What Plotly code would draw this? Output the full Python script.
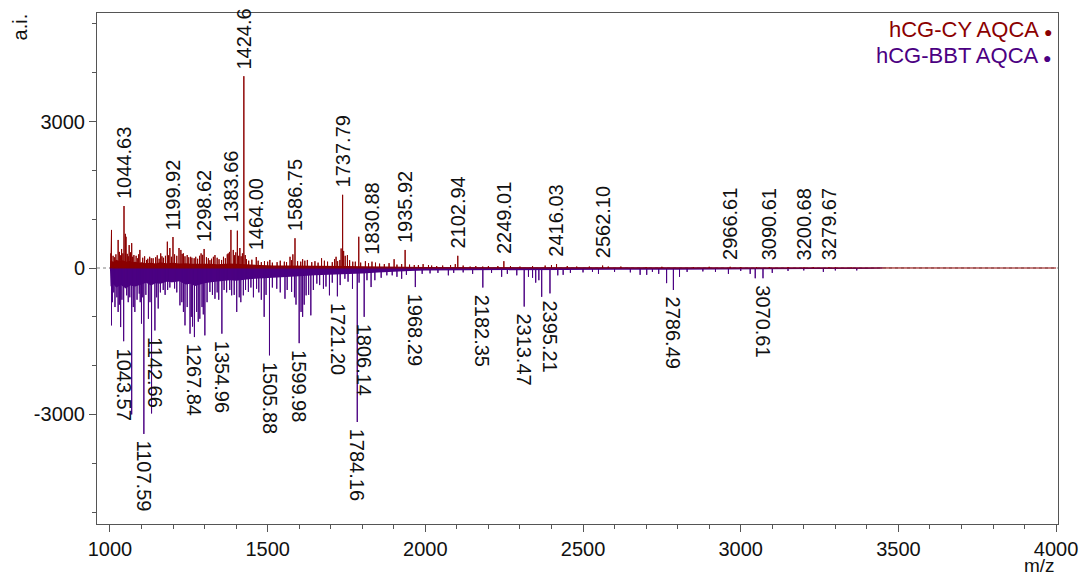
import plotly.graph_objects as go

# ---------------- data ----------------
# labelled peaks, upper spectrum (hCG-CY AQCA)
cy_label_mz = [1044.63, 1199.92, 1298.62, 1383.66, 1424.6, 1464.00, 1586.75, 1737.79,
               1830.88, 1935.92, 2102.94, 2249.01, 2416.03, 2562.10, 2966.61, 3090.61,
               3200.68, 3279.67]
cy_label_int = [1270, 635, 390, 780, 3930, 225, 610, 1500,
                130, 370, 250, 140, 80, 50, 25, 20, 12, 15]
cy_label_txt = ["1044.63", "1199.92", "1298.62", "1383.66", "1424.6", "1464.00", "1586.75",
                "1737.79", "1830.88", "1935.92", "2102.94", "2249.01", "2416.03", "2562.10",
                "2966.61", "3090.61", "3200.68", "3279.67"]

# other (unlabelled) peaks, upper spectrum
cy_mz = [1003, 1005, 1010, 1015, 1019, 1026, 1030, 1034, 1037, 1041, 1048, 1049, 1051, 1055,
         1058, 1061, 1065, 1069, 1072, 1076, 1083, 1088, 1091, 1095, 1104, 1110, 1116, 1120,
         1126, 1131, 1137, 1145, 1150, 1156, 1161, 1165, 1170, 1176, 1182, 1186, 1190, 1195,
         1205, 1212, 1219, 1225, 1229, 1233, 1238, 1245, 1250, 1256, 1260, 1267, 1272, 1278,
         1284, 1289, 1294, 1306, 1312, 1317, 1322, 1328, 1333, 1340, 1346, 1354, 1360, 1366,
         1372, 1375, 1379, 1391, 1395, 1399, 1404, 1408, 1412, 1416, 1420, 1429, 1433, 1440,
         1450, 1470, 1480, 1490, 1500, 1507, 1515, 1530, 1540, 1553, 1560, 1571, 1576, 1580,
         1595, 1605, 1611, 1618, 1626, 1640, 1650, 1660, 1671, 1680, 1690, 1705, 1712, 1717,
         1722, 1729, 1733, 1741, 1746, 1753, 1760, 1770, 1778, 1789, 1795, 1810, 1820, 1842,
         1855, 1870, 1885, 1901, 1910, 1925, 1950, 1965, 1978, 1993, 2010, 2020, 2036, 2055,
         2080, 2095, 2120, 2142, 2160, 2182, 2200, 2230, 2270, 2300, 2340, 2380, 2400, 2450,
         2480, 2520, 2580, 2620, 2700, 2750, 2850, 2900, 3000, 3050, 3150, 3230, 3300, 3350]
cy_int = [300, 780, 250, 220, 280, 575, 330, 260, 390, 300, 350, 700, 640, 290,
          240, 470, 320, 510, 230, 265, 250, 200, 280, 370, 210, 240, 165, 190,
          230, 200, 200, 220, 260, 190, 300, 240, 210, 250, 540, 260, 410, 230,
          280, 250, 410, 370, 290, 300, 240, 265, 220, 230, 210, 200, 230, 190,
          250, 300, 270, 220, 200, 160, 190, 230, 265, 210, 180, 165, 230, 200,
          280, 300, 330, 370, 260, 320, 765, 250, 410, 240, 300, 265, 180, 150,
          170, 150, 120, 140, 130, 165, 110, 120, 150, 130, 120, 230, 160, 280,
          140, 130, 180, 150, 165, 120, 140, 110, 200, 150, 130, 120, 180, 230,
          140, 165, 400, 350, 250, 265, 160, 130, 130, 640, 110, 140, 100, 110,
          90, 80, 100, 180, 70, 80, 70, 60, 60, 80, 60, 50, 40, 50,
          60, 80, 50, 30, 40, 30, 40, 40, 40, 30, 40, 50, 60, 40,
          30, 30, 30, 30, 20, 25, 20, 25, 20, 20, 20, 20, 15, 10]

# noise floor, upper spectrum
cy_floor_mz = [1000, 1002, 1012, 1020, 1032, 1040, 1052, 1060, 1072, 1080, 1092, 1100, 1115,
               1130, 1145, 1160, 1178, 1200, 1220, 1240, 1260, 1280, 1300, 1320, 1340, 1360,
               1380, 1400, 1420, 1440, 1460, 1480, 1520, 1560, 1600, 1650, 1700, 1750, 1800,
               1850, 1900, 2000, 2200, 2500, 2800, 3100, 3400, 3500, 4000]
cy_floor = [0, 150, 130, 170, 140, 160, 130, 150, 120, 130, 110, 120, 100,
            110, 95, 120, 100, 110, 95, 100, 85, 90, 80, 85, 75, 85,
            90, 85, 80, 70, 60, 55, 50, 50, 45, 40, 40, 40, 35,
            30, 25, 20, 15, 12, 10, 8, 5, 0, 0]

# labelled peaks, lower spectrum (hCG-BBT AQCA), drawn downward
bbt_label_mz = [1043.57, 1107.59, 1142.66, 1267.84, 1354.96, 1505.88, 1599.98, 1721.20,
                1784.16, 1806.14, 1968.29, 2182.35, 2313.47, 2395.21, 2786.49, 3070.61]
bbt_label_int = [-1500, -3400, -1280, -1415, -1345, -1790, -1540, -580,
                 -3155, -1000, -390, -400, -790, -520, -450, -210]
bbt_label_txt = ["1043.57", "1107.59", "1142.66", "1267.84", "1354.96", "1505.88", "1599.98",
                 "1721.20", "1784.16", "1806.14", "1968.29", "2182.35", "2313.47", "2395.21",
                 "2786.49", "3070.61"]

# other (unlabelled) peaks, lower spectrum
bbt_mz = [1005, 1008, 1012, 1016, 1022, 1026, 1030, 1034, 1038, 1053, 1058, 1063, 1069, 1074,
          1079, 1086, 1093, 1096, 1100, 1104, 1114, 1122, 1127, 1132, 1148, 1153, 1160, 1169,
          1175, 1183, 1190, 1196, 1205, 1212, 1222, 1228, 1233, 1238, 1245, 1254, 1258, 1262,
          1275, 1280, 1285, 1292, 1296, 1301, 1308, 1317, 1325, 1333, 1340, 1345, 1362, 1370,
          1380, 1386, 1394, 1402, 1410, 1415, 1423, 1430, 1439, 1447, 1455, 1465, 1472, 1480,
          1489, 1495, 1515, 1529, 1540, 1555, 1562, 1576, 1585, 1590, 1606, 1611, 1616, 1622,
          1630, 1637, 1645, 1656, 1665, 1677, 1685, 1696, 1705, 1730, 1745, 1755, 1769, 1790,
          1815, 1828, 1840, 1860, 1878, 1895, 1910, 1925, 1940, 1990, 2015, 2040, 2073, 2090,
          2120, 2150, 2210, 2242, 2260, 2290, 2327, 2340, 2350, 2360, 2369, 2420, 2437, 2460,
          2500, 2530, 2549, 2600, 2650, 2681, 2702, 2720, 2740, 2765, 2806, 2830, 2880, 2920,
          2961, 3000, 3030, 3046, 3100, 3150, 3200, 3262, 3300, 3368]
bbt_int = [-1175, -700, -500, -800, -600, -900, -750, -1210, -650, -560, -700, -600, -3000, -800,
           -900, -650, -525, -700, -1140, -600, -550, -1040, -700, -2980, -600, -830, -500, -450,
           -550, -450, -400, -290, -420, -500, -765, -700, -900, -1175, -800, -1345, -1000, -1200,
           -900, -1100, -1040, -800, -950, -1380, -700, -490, -550, -630, -500, -650, -450, -500,
           -450, -560, -550, -900, -600, -700, -560, -450, -490, -400, -600, -425, -500, -650,
           -1000, -550, -400, -425, -500, -630, -450, -490, -600, -750, -900, -1000, -750, -560,
           -550, -970, -450, -320, -350, -425, -380, -560, -300, -350, -220, -280, -425, -300,
           -250, -390, -250, -200, -150, -150, -180, -220, -140, -120, -110, -100, -150, -100,
           -90, -120, -100, -180, -120, -150, -180, -200, -300, -250, -590, -150, -140, -100,
           -90, -80, -120, -80, -90, -140, -140, -80, -120, -310, -180, -80, -70, -80,
           -120, -60, -120, -210, -100, -60, -50, -80, -50, -50]

# noise floor, lower spectrum
bbt_floor_mz = [1000, 1002, 1010, 1020, 1035, 1050, 1065, 1080, 1100, 1115, 1130, 1145, 1160,
                1180, 1200, 1220, 1240, 1255, 1270, 1285, 1300, 1320, 1340, 1360, 1380, 1400,
                1420, 1440, 1460, 1500, 1550, 1600, 1650, 1700, 1750, 1800, 1850, 1900, 1950,
                2000, 2100, 2200, 2400, 2600, 2800, 3000, 3200, 3400, 3450, 4000]
bbt_floor = [0, -380, -330, -400, -350, -420, -360, -380, -340, -300, -360, -310, -320,
             -280, -290, -270, -340, -320, -370, -340, -310, -290, -280, -260, -250, -260,
             -240, -230, -220, -210, -190, -170, -150, -140, -120, -110, -90, -70, -60,
             -50, -45, -40, -40, -35, -35, -30, -25, -15, 0, 0]

series_names = ["hCG-CY AQCA", "hCG-BBT AQCA"]
series_colors = ["#8B0000", "#4B0082"]

x_tickvals = [1000, 1500, 2000, 2500, 3000, 3500, 4000]
x_ticktext = ["1000", "1500", "2000", "2500", "3000", "3500", "4000"]
y_tickvals = [-3000, 0, 3000]
y_ticktext = ["-3000", "0", "3000"]


def sticks(mz, inten):
    pairs = sorted(zip(mz, inten))
    xs, ys = [], []
    for m, h in pairs:
        xs += [m, m, m]
        ys += [0, h, 0]
    return xs, ys


FONT = "Liberation Sans, Arial, sans-serif"

fig = go.Figure()

# noise floors
fig.add_trace(go.Scatter(x=bbt_floor_mz, y=bbt_floor, mode="lines", fill="tozeroy",
                         line=dict(width=0, color=series_colors[1]),
                         fillcolor=series_colors[1], showlegend=False, hoverinfo="skip"))
fig.add_trace(go.Scatter(x=cy_floor_mz, y=cy_floor, mode="lines", fill="tozeroy",
                         line=dict(width=0, color=series_colors[0]),
                         fillcolor=series_colors[0], showlegend=False, hoverinfo="skip"))

# stick spectra
bx, by = sticks(bbt_mz + bbt_label_mz + [1000, 3450], bbt_int + bbt_label_int + [0, 0])
fig.add_trace(go.Scatter(x=bx, y=by, mode="lines", name=series_names[1],
                         line=dict(width=1, color=series_colors[1]), showlegend=False))
cx, cy = sticks(cy_mz + cy_label_mz + [1000, 4000], cy_int + cy_label_int + [0, 0])
fig.add_trace(go.Scatter(x=cx, y=cy, mode="lines", name=series_names[0],
                         line=dict(width=1, color=series_colors[0]), showlegend=False))

annotations = []
for m, h, t in zip(cy_label_mz, cy_label_int, cy_label_txt):
    annotations.append(dict(x=m, y=h, xref="x", yref="y", text=t, textangle=-90,
                            showarrow=False, xanchor="center", yanchor="bottom", yshift=5,
                            font=dict(family=FONT, size=20, color="#111111")))
for m, h, t in zip(bbt_label_mz, bbt_label_int, bbt_label_txt):
    annotations.append(dict(x=m, y=h, xref="x", yref="y", text=t, textangle=90,
                            showarrow=False, xanchor="center", yanchor="top", yshift=-5,
                            font=dict(family=FONT, size=20, color="#111111")))

# legend-like labels (text then coloured dot)
for i, (name, col) in enumerate(zip(series_names, series_colors)):
    annotations.append(dict(xref="paper", yref="paper", x=0.996, y=0.967 - i * 0.051,
                            xanchor="right", yanchor="middle", showarrow=False,
                            text=name + " <span style='font-size:14px'>\u25CF</span>",
                            font=dict(family=FONT, size=22, color=col)))

annotations.append(dict(xref="paper", yref="paper", x=-0.080, y=0.972, text="a.i.",
                        textangle=-90, showarrow=False, xanchor="center", yanchor="middle",
                        font=dict(family=FONT, size=20, color="#111111")))
annotations.append(dict(xref="paper", yref="paper", x=0.981, y=-0.081, text="m/z",
                        showarrow=False, xanchor="center", yanchor="middle", borderpad=0,
                        font=dict(family=FONT, size=19, color="#111111")))

fig.update_layout(
    width=1080, height=577, autosize=False,
    margin=dict(l=97, r=22, t=13, b=53, autoexpand=False),
    paper_bgcolor="white", plot_bgcolor="white",
    showlegend=False,
    annotations=annotations,
    shapes=[dict(type="line", xref="paper", yref="y", x0=0, x1=1, y0=0, y1=0,
                 line=dict(color="#808080", width=1, dash="dot"), layer="below")],
    xaxis=dict(range=[959, 4006], tickvals=x_tickvals, ticktext=x_ticktext,
               ticks="outside", ticklen=7, automargin=False, ticklabelstandoff=0,
               tickwidth=1, tickcolor="#555555", showgrid=False, zeroline=False,
               showline=True, linecolor="#555555", linewidth=1, mirror=True,
               tickfont=dict(family=FONT, size=20, color="#111111"),
               minor=dict(dtick=100, ticks="outside", ticklen=4, tickcolor="#555555",
                          showgrid=False)),
    yaxis=dict(range=[-5245, 5225], tickvals=y_tickvals, ticktext=y_ticktext,
               ticks="outside", ticklen=7, automargin=False,
               tickwidth=1, tickcolor="#555555", showgrid=False, zeroline=False,
               showline=True, linecolor="#555555", linewidth=1, mirror=True,
               tickfont=dict(family=FONT, size=20, color="#111111"),
               minor=dict(dtick=1000, ticks="outside", ticklen=4, tickcolor="#555555",
                          showgrid=False)),
)

fig.write_html(
    "out.html",
    config={"responsive": False, "displayModeBar": False},
    post_script=("document.documentElement.style.overflow='hidden';"
                 "document.body.style.overflow='hidden';"
                 "document.body.style.margin='0';document.body.style.padding='0';"),
)
